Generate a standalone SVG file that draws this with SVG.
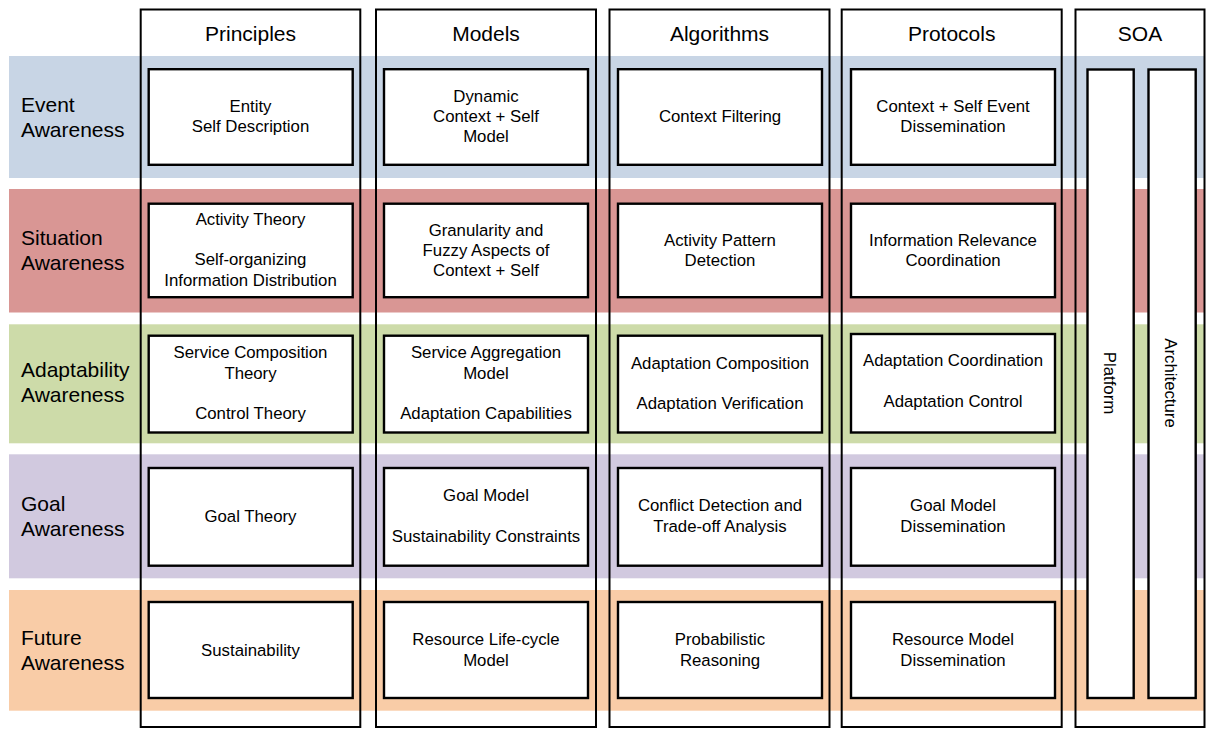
<svg xmlns="http://www.w3.org/2000/svg" width="1207" height="729" viewBox="0 0 1207 729">
<style>
.band{stroke:none}
.col{fill:none;stroke:#000;stroke-width:2}
.box{fill:#fff;stroke:#000;stroke-width:2.4}
text{font-family:"Liberation Sans",Arial,sans-serif;fill:#000}
.hd{font-size:21px;text-anchor:middle}
.rl{font-size:21px}
.bt{font-size:16.8px;text-anchor:middle}
</style>
<rect width="1207" height="729" fill="#fff"/>
<g id="bands">
<rect class="band" x="9" y="56" width="1196" height="122" fill="#c8d5e5"/>
<rect class="band" x="9" y="189" width="1196" height="123.5" fill="#d99694"/>
<rect class="band" x="9" y="324.3" width="1196" height="119" fill="#cddba9"/>
<rect class="band" x="9" y="454.3" width="1196" height="124" fill="#d1c9df"/>
<rect class="band" x="9" y="590" width="1196" height="120.7" fill="#f9cca7"/>
</g>
<g id="row-labels">
<text class="rl" x="21" y="111.5">Event</text><text class="rl" x="21" y="136.5">Awareness</text>
<text class="rl" x="21" y="244.5">Situation</text><text class="rl" x="21" y="269.5">Awareness</text>
<text class="rl" x="21" y="377">Adaptability</text><text class="rl" x="21" y="402">Awareness</text>
<text class="rl" x="21" y="510.5">Goal</text><text class="rl" x="21" y="535.5">Awareness</text>
<text class="rl" x="21" y="644.5">Future</text><text class="rl" x="21" y="669.5">Awareness</text>
</g>
<g id="columns">
<g id="col-principles"><rect class="col" x="140.7" y="9.5" width="219.6" height="717.5"/><text class="hd" x="250.5" y="40.5">Principles</text></g>
<g id="col-models"><rect class="col" x="376" y="9.5" width="220" height="717.5"/><text class="hd" x="486" y="40.5">Models</text></g>
<g id="col-algorithms"><rect class="col" x="609.5" y="9.5" width="220" height="717.5"/><text class="hd" x="719.5" y="40.5">Algorithms</text></g>
<g id="col-protocols"><rect class="col" x="841.7" y="9.5" width="220" height="717.5"/><text class="hd" x="951.7" y="40.5">Protocols</text></g>
<g id="col-soa"><rect class="col" x="1075.5" y="9.5" width="129" height="717.5"/><text class="hd" x="1140" y="40.5">SOA</text></g>
</g>
<g id="soa-platform"><rect class="box" x="1087.5" y="69.5" width="46.2" height="628.5"/><text class="bt" transform="translate(1104,383) rotate(90)">Platform</text></g>
<g id="soa-architecture"><rect class="box" x="1148.5" y="69.5" width="47.2" height="628.5"/><text class="bt" transform="translate(1165,383) rotate(90)">Architecture</text></g>
<g id="r1-principles"><rect class="box" x="148.7" y="69.2" width="204" height="95.6"/><text class="bt" x="250.5" y="112">Entity</text><text class="bt" x="250.5" y="132">Self Description</text></g>
<g id="r1-models"><rect class="box" x="384" y="69.2" width="204" height="95.6"/><text class="bt" x="486" y="102">Dynamic</text><text class="bt" x="486" y="122">Context + Self</text><text class="bt" x="486" y="142">Model</text></g>
<g id="r1-algorithms"><rect class="box" x="618" y="69.2" width="204" height="95.6"/><text class="bt" x="720" y="122">Context Filtering</text></g>
<g id="r1-protocols"><rect class="box" x="851" y="69.2" width="204" height="95.6"/><text class="bt" x="953" y="112">Context + Self Event</text><text class="bt" x="953" y="132">Dissemination</text></g>
<g id="r2-principles"><rect class="box" x="148.7" y="203.7" width="204" height="93.5"/><text class="bt" x="250.5" y="225">Activity Theory</text><text class="bt" x="250.5" y="265">Self-organizing</text><text class="bt" x="250.5" y="286">Information Distribution</text></g>
<g id="r2-models"><rect class="box" x="384" y="203.7" width="204" height="93.5"/><text class="bt" x="486" y="236">Granularity and</text><text class="bt" x="486" y="256">Fuzzy Aspects of</text><text class="bt" x="486" y="276">Context + Self</text></g>
<g id="r2-algorithms"><rect class="box" x="618" y="203.7" width="204" height="93.5"/><text class="bt" x="720" y="246">Activity Pattern</text><text class="bt" x="720" y="266">Detection</text></g>
<g id="r2-protocols"><rect class="box" x="851" y="203.7" width="204" height="93.5"/><text class="bt" x="953" y="246">Information Relevance</text><text class="bt" x="953" y="266">Coordination</text></g>
<g id="r3-principles"><rect class="box" x="148.7" y="335.7" width="204" height="96.8"/><text class="bt" x="250.5" y="358">Service Composition</text><text class="bt" x="250.5" y="379">Theory</text><text class="bt" x="250.5" y="419">Control Theory</text></g>
<g id="r3-models"><rect class="box" x="384" y="335.7" width="204" height="96.8"/><text class="bt" x="486" y="358">Service Aggregation</text><text class="bt" x="486" y="379">Model</text><text class="bt" x="486" y="419">Adaptation Capabilities</text></g>
<g id="r3-algorithms"><rect class="box" x="618" y="335.7" width="204" height="96.8"/><text class="bt" x="720" y="369">Adaptation Composition</text><text class="bt" x="720" y="409">Adaptation Verification</text></g>
<g id="r3-protocols"><rect class="box" x="851" y="334" width="204" height="98.5"/><text class="bt" x="953" y="366">Adaptation Coordination</text><text class="bt" x="953" y="407">Adaptation Control</text></g>
<g id="r4-principles"><rect class="box" x="148.7" y="468" width="204" height="97.7"/><text class="bt" x="250.5" y="522">Goal Theory</text></g>
<g id="r4-models"><rect class="box" x="384" y="468" width="204" height="97.7"/><text class="bt" x="486" y="501">Goal Model</text><text class="bt" x="486" y="542">Sustainability Constraints</text></g>
<g id="r4-algorithms"><rect class="box" x="618" y="468" width="204" height="97.7"/><text class="bt" x="720" y="511">Conflict Detection and</text><text class="bt" x="720" y="532">Trade-off Analysis</text></g>
<g id="r4-protocols"><rect class="box" x="851" y="468" width="204" height="97.7"/><text class="bt" x="953" y="511">Goal Model</text><text class="bt" x="953" y="532">Dissemination</text></g>
<g id="r5-principles"><rect class="box" x="148.7" y="602" width="204" height="96"/><text class="bt" x="250.5" y="656">Sustainability</text></g>
<g id="r5-models"><rect class="box" x="384" y="602" width="204" height="96"/><text class="bt" x="486" y="645">Resource Life-cycle</text><text class="bt" x="486" y="666">Model</text></g>
<g id="r5-algorithms"><rect class="box" x="618" y="602" width="204" height="96"/><text class="bt" x="720" y="645">Probabilistic</text><text class="bt" x="720" y="666">Reasoning</text></g>
<g id="r5-protocols"><rect class="box" x="851" y="602" width="204" height="96"/><text class="bt" x="953" y="645">Resource Model</text><text class="bt" x="953" y="666">Dissemination</text></g>
<g id="connectors"></g>
</svg>
